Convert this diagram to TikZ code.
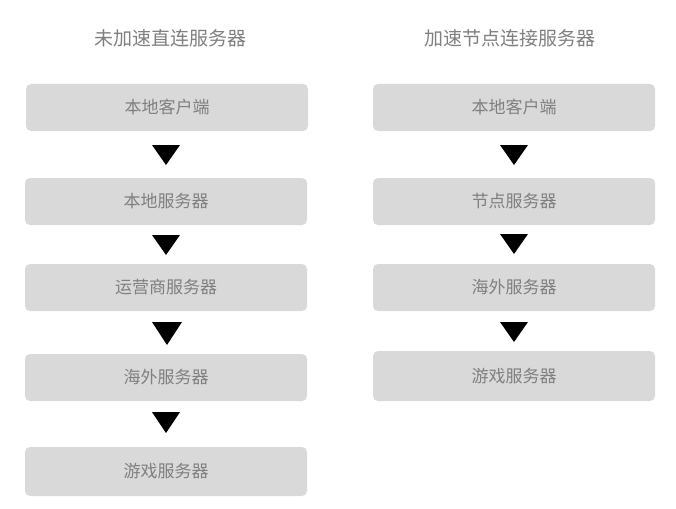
\documentclass[tikz,border=0pt]{standalone}
\usepackage{fontspec}
\newfontfamily\cjk{Noto Sans CJK SC}
\begin{document}
\begin{tikzpicture}[x=1pt,y=-1pt,
 box/.style={fill=boxgray,rounded corners=5pt,minimum width=282pt,inner sep=0pt,text=txtgray,font=\cjk\fontsize{17}{20}\selectfont},
 tri/.style={fill=black},
 ttl/.style={text=txtgray,font=\cjk\fontsize{19}{22}\selectfont}]
\definecolor{boxgray}{HTML}{D9D9D9}
\definecolor{txtgray}{HTML}{7F7F7F}
\useasboundingbox (0,0) rectangle (676,508);
\node[ttl] (t1) at (170,38) {未加速直连服务器};
\node[ttl] (t2) at (510,38) {加速节点连接服务器};
\node[box,minimum height=47pt] (a1) at (167,107.5) {本地客户端};
\node[box,minimum height=47pt] (a2) at (166,201.5) {本地服务器};
\node[box,minimum height=47pt] (a3) at (166,287.5) {运营商服务器};
\node[box,minimum height=47pt] (a4) at (166,377.5) {海外服务器};
\node[box,minimum height=49pt] (a5) at (166,471.5) {游戏服务器};
\node[box,minimum height=47pt] (b1) at (514,107.5) {本地客户端};
\node[box,minimum height=47pt] (b2) at (514,201.5) {节点服务器};
\node[box,minimum height=47pt] (b3) at (514,287.5) {海外服务器};
\node[box,minimum height=50pt] (b4) at (514,376) {游戏服务器};
\fill[tri] (152,145) -- (180,145) -- (166,165) -- cycle;
\fill[tri] (152,235) -- (180,235) -- (166,255) -- cycle;
\fill[tri] (152,322) -- (182,322) -- (167,345) -- cycle;
\fill[tri] (152,412) -- (180,412) -- (166,433) -- cycle;
\fill[tri] (500,145) -- (528,145) -- (514,165) -- cycle;
\fill[tri] (500,234) -- (528,234) -- (514,254) -- cycle;
\fill[tri] (500,322) -- (528,322) -- (514,342) -- cycle;
\end{tikzpicture}
\end{document}
